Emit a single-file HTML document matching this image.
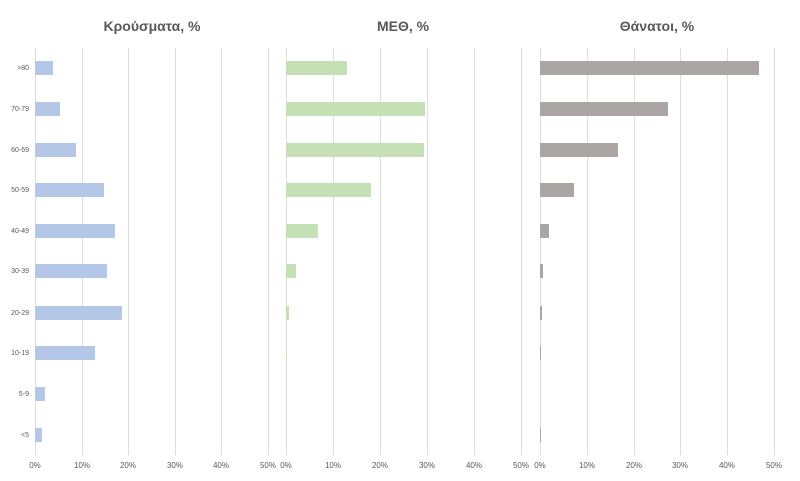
<!DOCTYPE html>
<html><head><meta charset="utf-8"><style>
body{margin:0;width:800px;height:481px;background:#fff;font-family:"Liberation Sans",sans-serif;position:relative;overflow:hidden}
.g{position:absolute;top:48px;height:407px;width:1px;background:#dedede}
.b{position:absolute;height:14px}
.t{position:absolute;top:461px;font-size:8px;color:#595959;width:30px;text-align:center;margin-left:-15px}
.c{position:absolute;font-size:7px;color:#595959;right:771px;text-align:right}
.h{position:absolute;top:18px;font-size:14px;font-weight:bold;color:#595959;text-align:center;width:240px}
</style></head><body>
<div class="h" style="left:32px">Κρούσματα, %</div>
<div class="h" style="left:283px">ΜΕΘ, %</div>
<div class="h" style="left:537px">Θάνατοι, %</div>
<div id="x"></div>
<script>
var p=[[35,46.6,"#b4c7e7",[53,60,76,104,115,107,122,95,45,42]],[286,47,"#c5e0b4",[347,425,424,371,318,296,289,287,286,286]],[540,46.8,"#aba5a5",[759,668,618,574,549,543,542,541,540,541]]];
var rows=[68,109,150,190,231,271,313,353,394,435],labs=[">80","70-79","60-69","50-59","40-49","30-39","20-29","10-19","5-9","<5"];
var h="";
p.forEach(function(q){for(var i=0;i<=5;i++){var x=Math.round(q[0]+i*q[1]);h+='<div class="g" style="left:'+x+'px"></div><div class="t" style="left:'+x+'px">'+(i*10)+'%</div>';}
q[3].forEach(function(e,j){h+='<div class="b" style="left:'+q[0]+'px;width:'+(e-q[0])+'px;top:'+(rows[j]-7)+'px;background:'+q[2]+'"></div>';});});
labs.forEach(function(l,j){h+='<div class="c" style="top:'+(rows[j]-3)+'px">'+l.replace("<","&lt;").replace(">","&gt;")+'</div>';});
document.getElementById("x").innerHTML=h;
</script>
</body></html>
